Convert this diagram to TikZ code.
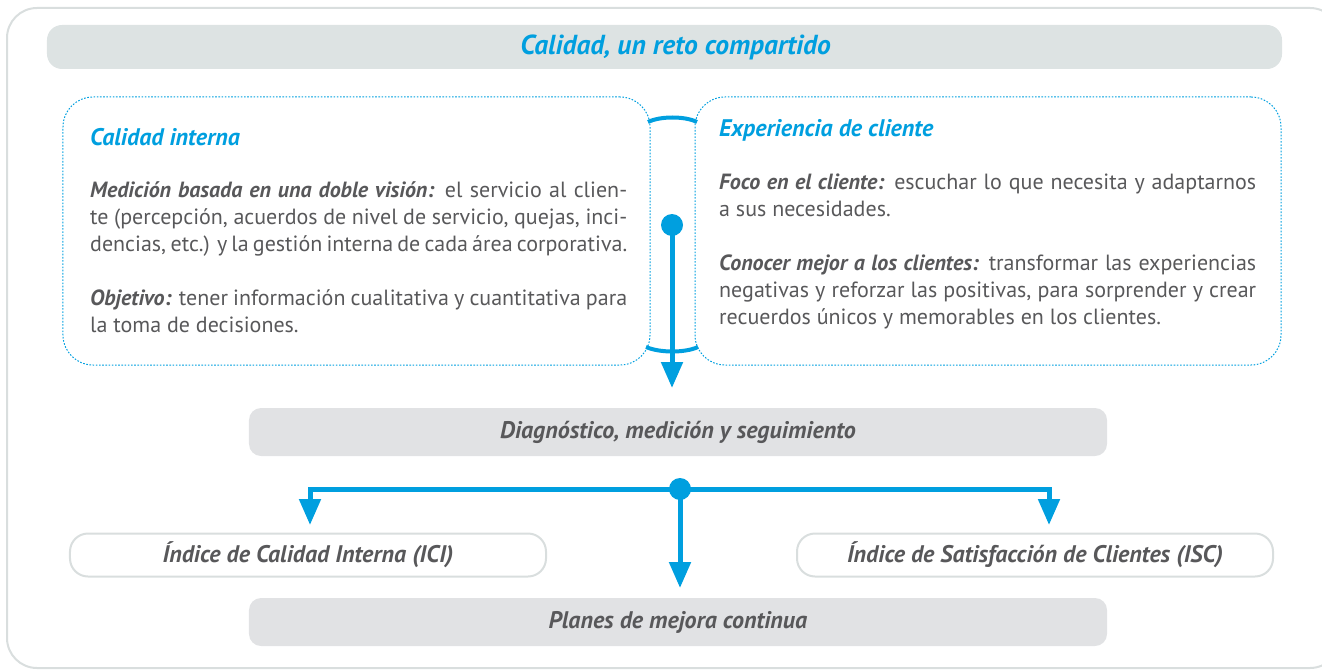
\documentclass[tikz,border=0pt]{standalone}
\usepackage{fontspec}
\setmainfont{PT Sans}
\usepackage{xcolor}
\usetikzlibrary{arrows.meta}
\usetikzlibrary{positioning}

\definecolor{azul}{HTML}{009FDF}
\definecolor{texto}{HTML}{58585A}
\definecolor{barra}{HTML}{DDE3E3}
\definecolor{caja}{HTML}{E1E2E4}
\definecolor{borde}{HTML}{D9DEDE}

\begin{document}
\begin{tikzpicture}[x=1bp,y=-1bp,
        frame/.style={draw=borde,line width=2bp,rounded corners=30bp},
        titlebar/.style={fill=barra,rounded corners=15bp,minimum width=1235bp,minimum height=44bp},
        titletxt/.style={text=azul,font=\fontsize{27.5bp}{30bp}\selectfont\bfseries\itshape},
        dotbox/.style={draw=azul,line width=1bp,dash pattern=on 1.6bp off 1.6bp,rounded corners=30bp,minimum height=268bp},
        txt/.style={inner sep=0pt,text width=537bp,align=justify,text=texto,font=\fontsize{22bp}{27bp}\selectfont},
        head/.style={inner sep=0pt,text=azul,font=\fontsize{24bp}{27bp}\selectfont\bfseries\itshape},
        graybox/.style={fill=caja,rounded corners=12bp,minimum width=858bp,minimum height=48bp,text=texto,font=\fontsize{24bp}{27bp}\selectfont\bfseries\itshape},
        whitebox/.style={draw=borde,line width=2bp,fill=white,rounded corners=18bp,minimum width=476bp,minimum height=43bp,text=texto,font=\fontsize{24bp}{27bp}\selectfont\bfseries\itshape},
        bigdot/.style={circle,fill=azul,inner sep=0pt,minimum size=22bp},
        flow/.style={draw=azul,line width=5bp,-{Triangle[width=21bp,length=26bp]}},
        bow/.style={draw=azul,line width=4bp}]

        \useasboundingbox (0,0) rectangle (1322,670);
        \draw[frame] (7,8) rectangle (1340,668);

        \node[titlebar] (tit) at (664.5,47) {};
        \node[titletxt] (tittxt) at ([xshift=11bp]tit.center) {Calidad, un reto compartido};

        \node[dotbox,minimum width=587bp] (qi) at (356.5,231) {};
        \node[dotbox,minimum width=586bp] (ec) at (988,231) {};

        \node[head,anchor=base west] (qihead) at (90,145) {Calidad interna};
        \node[txt,anchor=north west] (qitxt) at (90,181) {{\bfseries\itshape Medición basada en una doble visión:} el servicio al clien-\linebreak te (percepción, acuerdos de nivel de servicio, quejas, inci-\linebreak dencias, etc.) y la gestión interna de cada área corporativa.\par\vspace{27bp}
        {\bfseries\itshape Objetivo:} tener información cualitativa y cuantitativa para\linebreak la toma de decisiones.};

        \node[head,anchor=base west] (echead) at (719,136) {Experiencia de cliente};
        \node[txt,anchor=north west] (ectxt) at (719,174) {{\bfseries\itshape Foco en el cliente:} escuchar lo que necesita y adaptarnos\linebreak a sus necesidades.\par\vspace{27bp}
        {\bfseries\itshape Conocer mejor a los clientes:} transformar las experiencias\linebreak negativas y reforzar las positivas, para sorprender y crear\linebreak recuerdos únicos y memorables en los clientes.};

        \coordinate (a1) at (648,122);
        \coordinate (a2) at (697,122);
        \coordinate (b1) at (646,347);
        \coordinate (b2) at (698,347);
        \draw[bow] (a1) .. controls (660,116) and (685,116) .. (a2);
        \draw[bow] (b1) .. controls (660,353) and (685,353) .. (b2);

        \node[bigdot] (d1) at (672,225) {};
        \coordinate (t0) at (672,388);
        \draw[flow] (d1.center) -- (t0);

        \node[graybox] (diag) at (678,432) {Diagnóstico, medición y seguimiento};

        \node[whitebox] (ici) at (308,555) {Índice de Calidad Interna (ICI)};
        \node[whitebox] (isc) at (1035,555) {Índice de Satisfacción de Clientes (ISC)};

        \node[graybox] (plan) at (678,622) {Planes de mejora continua};

        \coordinate (t1) at (310,525);
        \coordinate (t2) at (1049,525);
        \coordinate (t3) at (680,588);
        \node[bigdot] (d2) at (680,489) {};
        \draw[flow] (d2.center) -| (t1);
        \draw[flow] (d2.center) -| (t2);
        \draw[flow] (d2.center) -- (t3);

    \end{tikzpicture}
\end{document}
